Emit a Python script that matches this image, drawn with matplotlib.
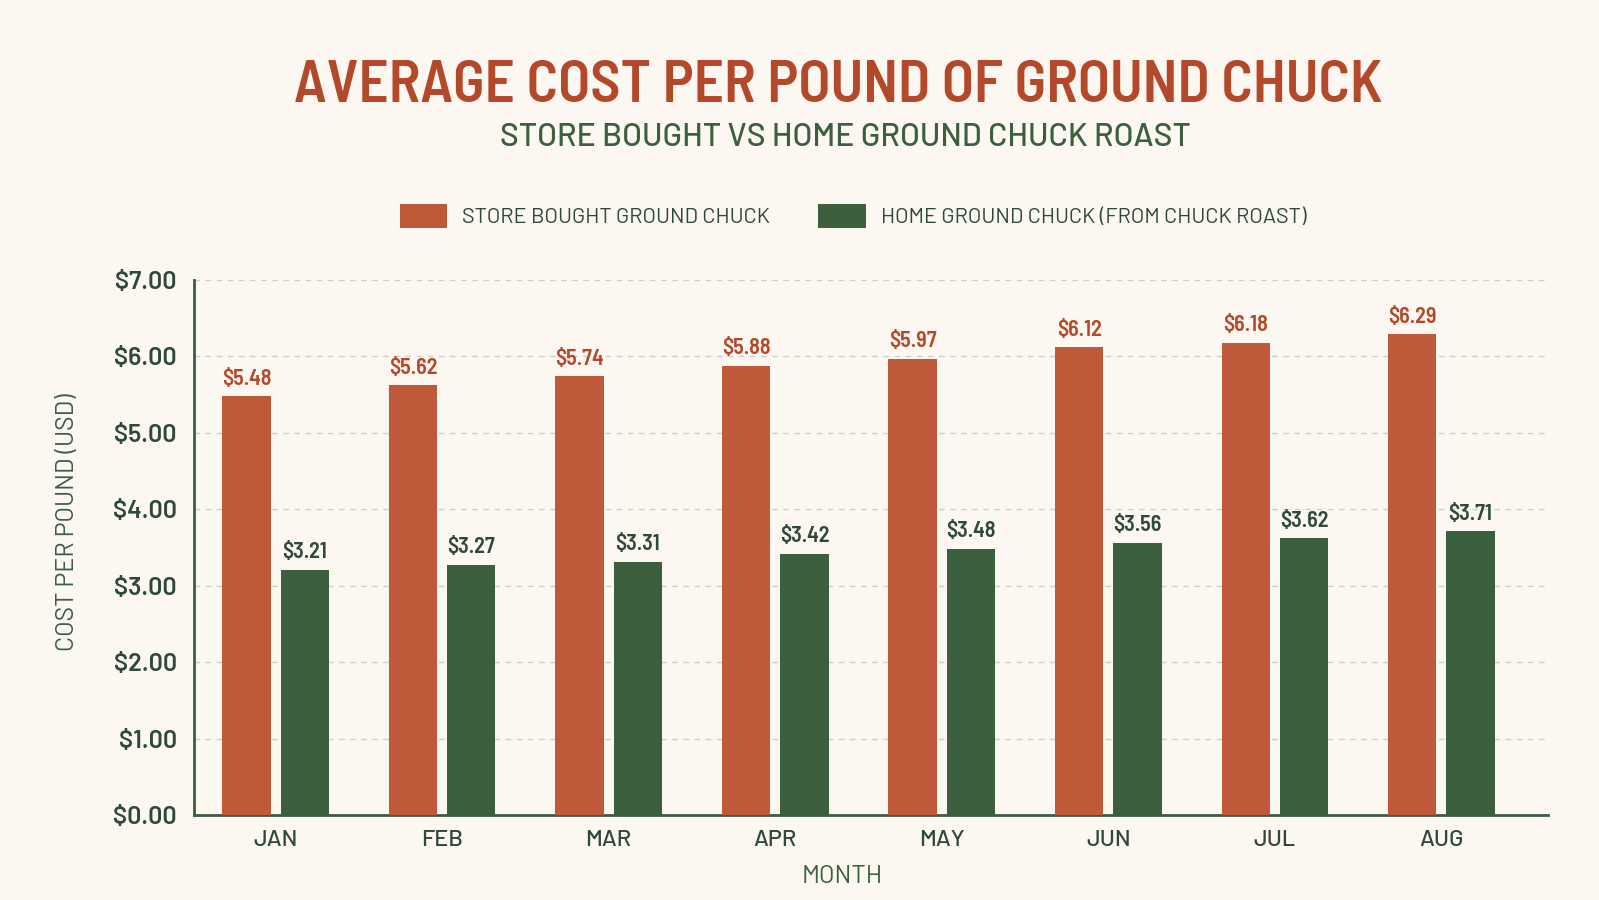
import matplotlib
matplotlib.use("Agg")
import matplotlib.pyplot as plt
from matplotlib.patches import Patch
import numpy as np

# data
months = ["JAN", "FEB", "MAR", "APR", "MAY", "JUN", "JUL", "AUG"]
store_bought = [5.48, 5.62, 5.74, 5.88, 5.97, 6.12, 6.18, 6.29]
home_ground = [3.21, 3.27, 3.31, 3.42, 3.48, 3.56, 3.62, 3.71]
y_ticks = [0, 1, 2, 3, 4, 5, 6, 7]

BG = "#FCF7F0"
ORANGE = "#C0583A"
GREEN = "#3C5F3E"
TITLE_C = "#B4482B"
TEXT_C = "#2E4A34"
GRID_C = "#D2CFC8"

plt.rcParams['font.family'] = ['Barlow', 'DejaVu Sans']

fig = plt.figure(figsize=(15.99, 9.0), dpi=100, facecolor=BG)
ax = fig.add_axes([194 / 1599, 85 / 900, (1548 - 194) / 1599, (815 - 280) / 900])
ax.set_facecolor(BG)

x = np.arange(len(months))
w = 0.29
off = 0.175
ax.bar(x - off, store_bought, w, color=ORANGE, zorder=3)
ax.bar(x + off, home_ground, w, color=GREEN, zorder=3)

semi = ["Barlow Semi Condensed", "DejaVu Sans"]
for xi, v in zip(x, store_bought):
    ax.text(xi - off, v + 0.1, f"${v:.2f}", ha="center", va="bottom", family=semi,
            fontsize=16, fontweight="semibold", color=TITLE_C)
for xi, v in zip(x, home_ground):
    ax.text(xi + off, v + 0.1, f"${v:.2f}", ha="center", va="bottom", family=semi,
            fontsize=16, fontweight="semibold", color=TEXT_C)

ax.set_xlim(-0.49, 7.64)
ax.set_ylim(0, 7)
ax.set_yticks(y_ticks)
ax.set_yticklabels([f"${t:.2f}" for t in y_ticks], fontsize=18, fontweight="semibold", color=TEXT_C)
ax.set_xticks(x)
ax.set_xticklabels(months, fontsize=17, fontweight="medium", color=TEXT_C)
ax.tick_params(axis="both", length=0)
ax.tick_params(axis="y", pad=12.5)
ax.tick_params(axis="x", pad=11)

ax.yaxis.grid(True, linestyle=(0, (4, 4)), color=GRID_C, linewidth=1, zorder=0)
for s in ["top", "right"]:
    ax.spines[s].set_visible(False)
for s in ["left", "bottom"]:
    ax.spines[s].set_color(GREEN)
    ax.spines[s].set_linewidth(2)

ax.set_ylabel("COST PER POUND (USD)", fontsize=18, color=GREEN)
ax.yaxis.set_label_coords(-0.085, 0.548)
ax.set_xlabel("MONTH", fontsize=18, color=GREEN)
ax.xaxis.set_label_coords(0.4786, -0.093)

fig.text(838 / 1599, 1 - 87 / 900, "AVERAGE COST PER POUND OF GROUND CHUCK",
         ha="center", va="center", fontsize=42.5, fontweight="semibold", color=TITLE_C,
         family=semi)
fig.text(845 / 1599, 1 - 137 / 900, "STORE BOUGHT VS HOME GROUND CHUCK ROAST",
         ha="center", va="center", fontsize=23, fontweight="medium", color=GREEN)

handles = [Patch(facecolor=ORANGE, label="STORE BOUGHT GROUND CHUCK"),
           Patch(facecolor=GREEN, label="HOME GROUND CHUCK (FROM CHUCK ROAST)")]
fig.legend(handles=handles, loc="center", bbox_to_anchor=(853 / 1599, 1 - 216 / 900),
           ncol=2, frameon=False, fontsize=15.6, handlelength=2.2, handleheight=1.3,
           handletextpad=0.7, columnspacing=2.2, labelcolor=TEXT_C)

fig.savefig("out.png", dpi=100, facecolor=BG)
